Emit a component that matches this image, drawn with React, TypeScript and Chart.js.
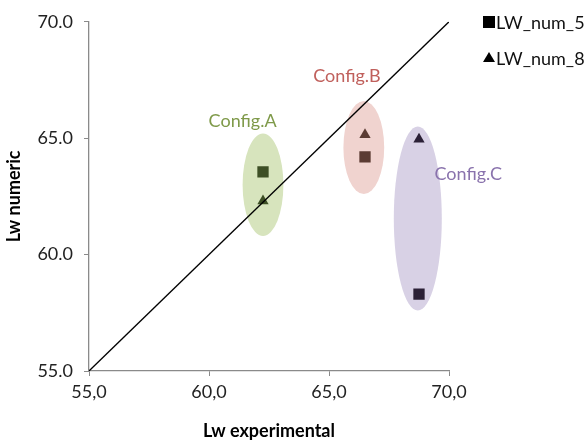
import React, { useEffect, useRef } from 'react';
import { Chart, registerables } from 'chart.js';

Chart.register(...registerables);

// ---- data ----
const configNames = ['Config.A', 'Config.B', 'Config.C'];
const lwExperimental = [62.25, 66.5, 68.75];
const lwNum5 = [63.55, 64.2, 58.3];
const lwNum8 = [62.3, 65.15, 64.95];
const seriesNames = ['LW_num_5', 'LW_num_8'];
const diagonalX = [55, 70];
const diagonalY = [55, 70];
const ellipseCenterX = [62.25, 66.45, 68.7];
const ellipseCenterY = [63.0, 64.6, 61.55];
const ellipseRadiusX = [0.85, 0.85, 1.0];
const ellipseRadiusY = [2.2, 2.0, 3.95];
const labelX = [61.4, 65.75, 70.8];
const labelY = [65.75, 67.65, 63.45];

// ---- styles ----
const pointColors = ['#3d4f25', '#5b3b33', '#2b2036'];
const ellipseColors = ['#d7e4bd', '#f0d3cf', '#d8d1e5'];
const labelColors = ['#7f9a4a', '#c0605c', '#8a73ad'];
const axisColor = '#8a8a8a';
const FONT = 'Lato';

export default function App() {
  const ref = useRef<HTMLCanvasElement | null>(null);

  useEffect(() => {
    if (!ref.current) return;
    Chart.defaults.font.family = FONT;

    const decor = {
      id: 'decor',
      beforeDatasetsDraw(chart: any) {
        const { ctx, scales } = chart;
        const x = scales.x, y = scales.y;
        ctx.save();
        for (let i = 0; i < ellipseCenterX.length; i++) {
          const cx = x.getPixelForValue(ellipseCenterX[i]);
          const cy = y.getPixelForValue(ellipseCenterY[i]);
          const rx = Math.abs(x.getPixelForValue(ellipseCenterX[i] + ellipseRadiusX[i]) - cx);
          const ry = Math.abs(y.getPixelForValue(ellipseCenterY[i] + ellipseRadiusY[i]) - cy);
          ctx.beginPath();
          ctx.ellipse(cx, cy, rx, ry, 0, 0, Math.PI * 2);
          ctx.fillStyle = ellipseColors[i];
          ctx.fill();
        }
        ctx.restore();
      },
      afterDraw(chart: any) {
        const { ctx, scales } = chart;
        const x = scales.x, y = scales.y;
        ctx.save();
        ctx.font = `18px ${FONT}`;
        ctx.textAlign = 'center';
        ctx.textBaseline = 'middle';
        for (let i = 0; i < configNames.length; i++) {
          ctx.fillStyle = labelColors[i];
          ctx.fillText(configNames[i], x.getPixelForValue(labelX[i]), y.getPixelForValue(labelY[i]));
        }
        // legend
        const lx = 489;
        const ly = [22, 58];
        ctx.fillStyle = '#000';
        ctx.fillRect(lx - 6, ly[0] - 6, 12, 12);
        ctx.beginPath();
        ctx.moveTo(lx, ly[1] - 6);
        ctx.lineTo(lx + 6, ly[1] + 4);
        ctx.lineTo(lx - 6, ly[1] + 4);
        ctx.closePath();
        ctx.fill();
        ctx.font = `18px ${FONT}`;
        ctx.textAlign = 'left';
        ctx.fillStyle = '#111';
        ctx.fillText(seriesNames[0], 496, ly[0] + 1);
        ctx.fillText(seriesNames[1], 496, ly[1] + 1);
        ctx.restore();
      },
    };

    const chart = new Chart(ref.current, {
      type: 'scatter',
      data: {
        datasets: [
          {
            type: 'line',
            label: 'diagonal',
            data: diagonalX.map((v, i) => ({ x: v, y: diagonalY[i] })),
            borderColor: '#000',
            borderWidth: 1.3,
            pointRadius: 0,
            showLine: true,
            fill: false,
          } as any,
          {
            label: seriesNames[0],
            data: lwExperimental.map((v, i) => ({ x: v, y: lwNum5[i] })),
            pointStyle: 'rect',
            pointRadius: 8,
            pointBackgroundColor: pointColors,
            pointBorderColor: pointColors,
            pointBorderWidth: 0,
          },
          {
            label: seriesNames[1],
            data: lwExperimental.map((v, i) => ({ x: v, y: lwNum8[i] })),
            pointStyle: 'triangle',
            pointRadius: 6.5,
            pointBackgroundColor: pointColors,
            pointBorderColor: pointColors,
            pointBorderWidth: 0,
          },
        ],
      },
      options: {
        animation: false,
        responsive: false,
        layout: { padding: { top: 20, right: 137, left: 0, bottom: 0 } },
        plugins: { legend: { display: false }, tooltip: { enabled: false } },
        scales: {
          x: {
            type: 'linear',
            min: 55,
            max: 70,
            afterFit: (s: any) => { s.height = 71; },
            ticks: {
              stepSize: 5,
              color: '#222',
              font: { size: 18, family: FONT },
              padding: 5,
              callback: (v: any) => Number(v).toFixed(1).replace('.', ','),
            },
            grid: { drawOnChartArea: false, drawTicks: true, tickLength: 5, color: axisColor },
            border: { display: true, color: axisColor, width: 1.3 },
            title: {
              display: true,
              text: 'Lw experimental',
              color: '#000',
              font: { size: 18, weight: 'bold', family: FONT },
              padding: { top: 0, bottom: 0 },
            },
          },
          y: {
            type: 'linear',
            min: 55,
            max: 70,
            afterFit: (s: any) => { s.width = 89; },
            ticks: {
              stepSize: 5,
              color: '#222',
              font: { size: 18, family: FONT },
              padding: 11,
              callback: (v: any) => Number(v).toFixed(1),
            },
            grid: { drawOnChartArea: false, drawTicks: true, tickLength: 5, color: axisColor },
            border: { display: true, color: axisColor, width: 1.3 },
            title: {
              display: true,
              text: 'Lw numeric',
              color: '#000',
              font: { size: 18, weight: 'bold', family: FONT },
              padding: { top: 3, bottom: 0 },
            },
          },
        },
      },
      plugins: [decor],
    });
    return () => chart.destroy();
  }, []);

  return (
    <div style={{ position: 'fixed', left: 0, top: 0, width: 586, height: 442, background: '#fff' }}>
      <canvas ref={ref} width={586} height={442} />
    </div>
  );
}
